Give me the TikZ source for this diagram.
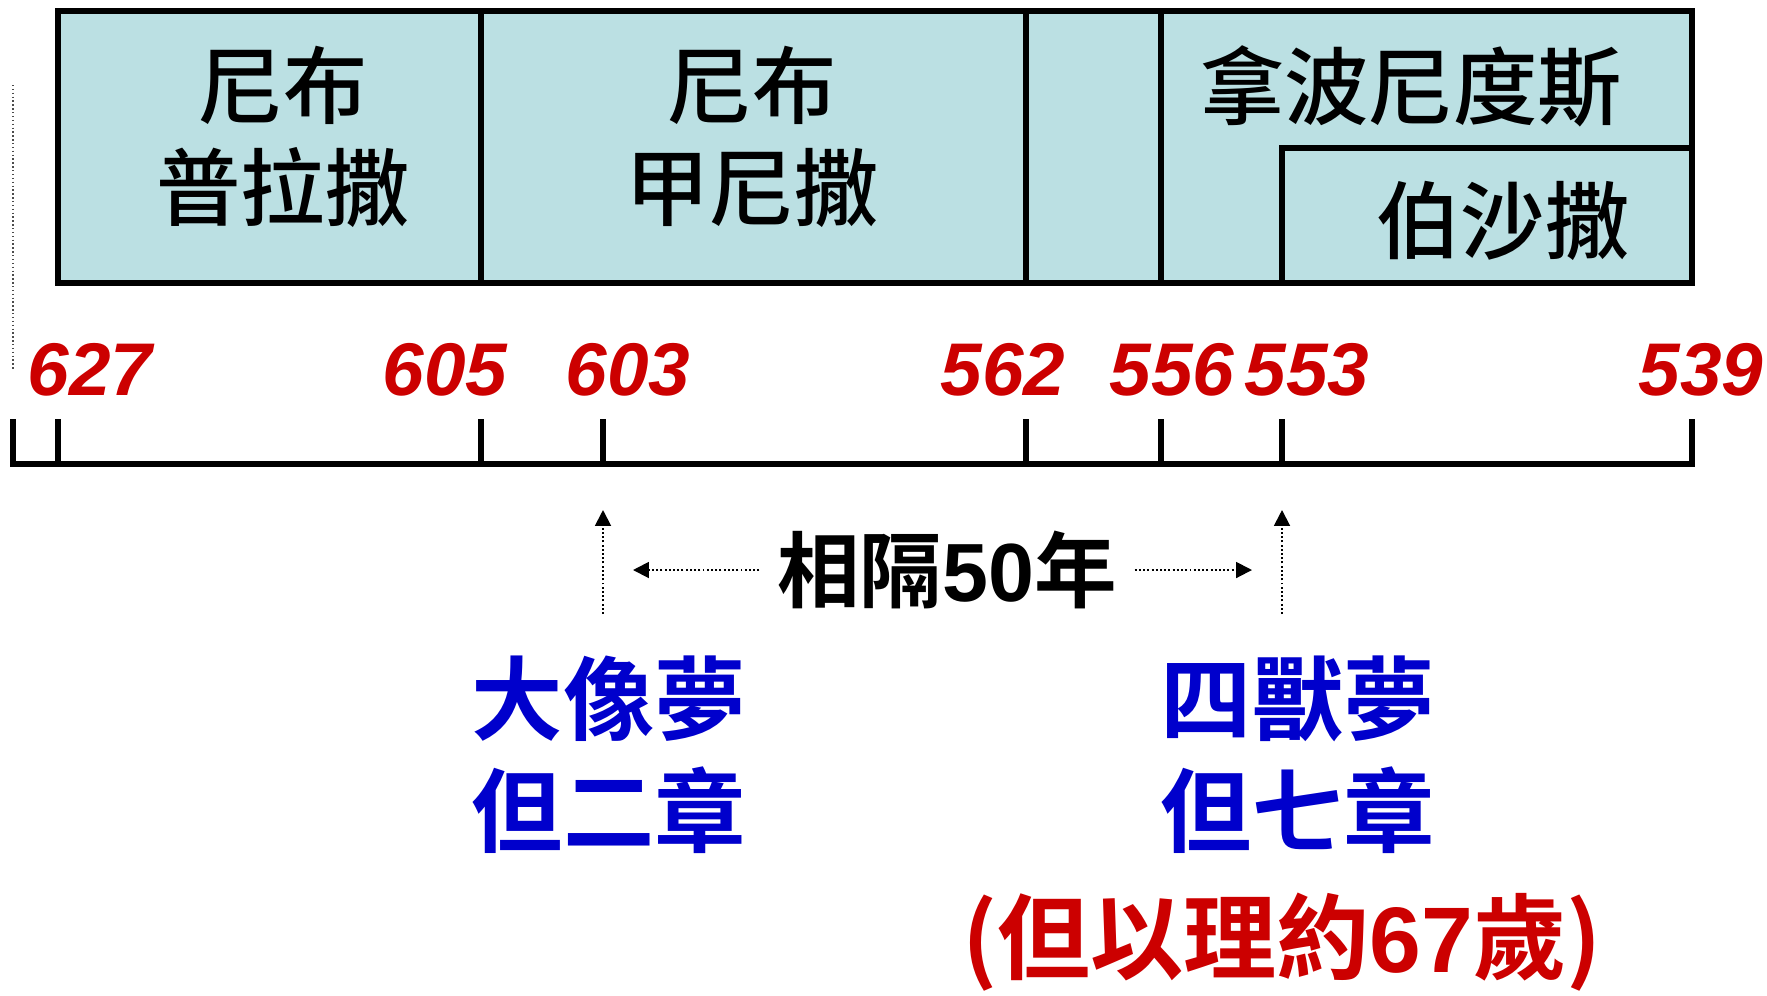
\documentclass[tikz,border=0pt]{standalone}
\usepackage{fontspec}
\setmainfont{Liberation Sans}
\newfontfamily\cjk{Noto Sans CJK TC}[UprightFont=* Medium, BoldFont=* Bold]
\usetikzlibrary{arrows.meta,positioning}
\definecolor{kingblue}{RGB}{187,224,227}
\definecolor{yearred}{RGB}{204,0,0}
\definecolor{dreamblue}{RGB}{0,0,204}
\newcommand{\digits}[1]{{\rmfamily\bfseries #1}}
\tikzset{
	frame/.style={line width=2.9pt, fill=kingblue},
	ruler/.style={line width=3.6pt},
	king/.style={font=\cjk\fontsize{48}{58}\selectfont, align=center, inner sep=0pt},
	year/.style={text=yearred, font=\fontsize{42.5}{42.5}\selectfont\bfseries\itshape, inner sep=0pt},
	dream/.style={text=dreamblue, font=\cjk\bfseries\fontsize{52}{63.5}\selectfont, align=center, inner sep=0pt},
	gap/.style={line width=1.1pt, dash pattern=on 1.1pt off 1.3pt, -{Triangle[length=9pt, width=9pt]}},
}

\begin{document}
\begin{tikzpicture}[x=0.02cm, y=-0.02cm]
		%%%%% START %%%%%
		\useasboundingbox (0, 0) rectangle (1767, 995);
		
		% kings
		\draw[frame] (58, 11) rectangle (1692, 283);
		\draw[frame] (1282, 148) rectangle (1692, 283);
		\draw[line width=2.9pt] (481, 11) -- (481, 283);
		\draw[line width=2.9pt] (1026, 11) -- (1026, 283);
		\draw[line width=2.9pt] (1161, 11) -- (1161, 283);
		
		\node[king] (nabopolassar) at (283, 137) {尼布\\普拉撒};
		\node[king] (nebuchadnezzar) at (752, 137) {尼布\\甲尼撒};
		\node[king] (nabonidus) at (1411, 86) {拿波尼度斯};
		\node[king] (belshazzar) at (1503, 221) {伯沙撒};
		
		\draw[line width=0.8pt, color=black!70, dash pattern=on 0.8pt off 1.4pt] (13, 85) -- (13, 370);
		
		% years
		\node[year] (y627) at (90, 370) {627};
		\node[year] (y605) at (445, 370) {605};
		\node[year] (y603) at (628, 370) {603};
		\node[year] (y562) at (1003, 370) {562};
		\node[year] (y556) at (1172, 370) {556};
		\node[year] (y553) at (1307, 370) {553};
		\node[year] (y539) at (1701, 370) {539};
		
		\draw[ruler] (13, 419) -- (13, 464) -- (1692, 464) -- (1692, 419);
		\foreach \x in {58, 481, 603, 1026, 1161, 1282}
			\draw[ruler] (\x, 419) -- (\x, 464);
		
		% 50 years
		\coordinate (lo603) at (603, 614);
		\coordinate (hi603) at (603, 510);
		\coordinate (lo553) at (1282, 614);
		\coordinate (hi553) at (1282, 510);
		\coordinate (left) at (633, 570);
		\coordinate (right) at (1252, 570);
		
		\node[font=\cjk\bfseries\fontsize{47}{47}\selectfont, inner xsep=10pt, inner ysep=0pt] (gap) at (947, 570) {相隔\digits{50}年};
		\draw[gap] (lo603) -- (hi603);
		\draw[gap] (lo553) -- (hi553);
		\draw[gap] (gap.west) -- (left);
		\draw[gap] (gap.east) -- (right);
		
		% dreams
		\node[dream] (statue) at (609, 755) {大像夢\\但二章};
		\node[dream] (beasts) at (1298, 755) {四獸夢\\但七章};
		\node[text=yearred, font=\cjk\bfseries\fontsize{53}{53}\selectfont, inner sep=0pt] (age) at (1282, 942) {(但以理約\digits{67}歲)};
		
		%%%%% END %%%%%
	\end{tikzpicture}
\end{document}
